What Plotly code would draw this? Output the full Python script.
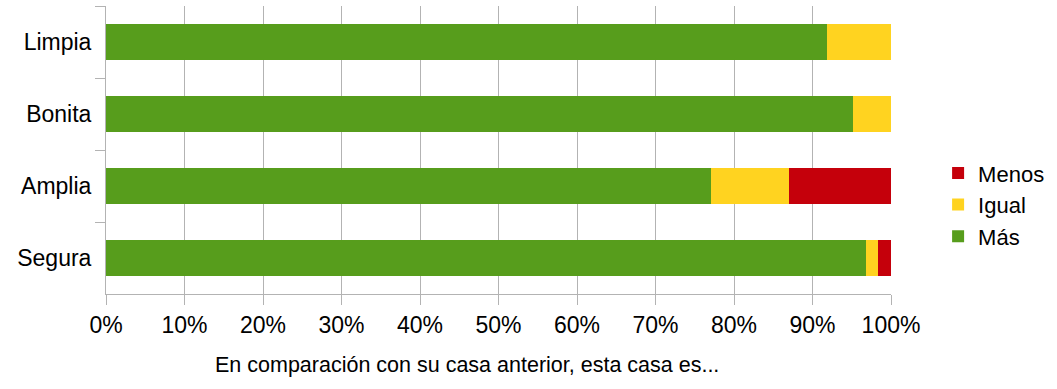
import plotly.graph_objects as go

categories = ["Limpia", "Bonita", "Amplia", "Segura"]
mas = [91.8, 95.2, 77.1, 96.8]
igual = [8.2, 4.8, 9.9, 1.6]
menos = [0.0, 0.0, 13.0, 1.6]
x_ticks = [0, 10, 20, 30, 40, 50, 60, 70, 80, 90, 100]

FONT = "Liberation Sans, Arial, sans-serif"
GRID = "#b3b3b3"

fig = go.Figure()
for name, vals, color in [("Más", mas, "#579d1c"), ("Igual", igual, "#ffd320"), ("Menos", menos, "#c5000b")]:
    fig.add_trace(go.Bar(
        y=categories, x=vals, name=name, orientation="h",
        marker=dict(color=color, line=dict(width=0)),
        width=0.5,
    ))

fig.update_layout(
    width=1057, height=389,
    margin=dict(l=106, r=166, t=6, b=95, autoexpand=False),
    barmode="stack",
    plot_bgcolor="white", paper_bgcolor="white",
    font=dict(family=FONT, size=23, color="black"),
    showlegend=True,
    legend=dict(
        traceorder="reversed",
        x=1.06, xanchor="left", y=0.31, yanchor="middle",
        font=dict(size=22), itemsizing="constant",
        tracegroupgap=0,
    ),
    xaxis=dict(
        range=[0, 100], tickvals=x_ticks, ticktext=[f"{v}%" for v in x_ticks],
        showgrid=True, gridcolor=GRID, gridwidth=1,
        showline=True, linecolor=GRID, linewidth=1,
        ticks="outside", ticklen=10, tickcolor=GRID,
        zeroline=False, fixedrange=True, automargin=False,
        tickfont=dict(size=23),
    ),
    yaxis=dict(
        categoryorder="array", categoryarray=categories, autorange="reversed",
        showline=True, linecolor=GRID, linewidth=1,
        ticks="outside", ticklen=10, tickcolor=GRID, tickson="boundaries",
        ticklabelstandoff=9,
        showgrid=False, automargin=False, fixedrange=True, tickfont=dict(size=23),
    ),
    annotations=[dict(
        text="En comparación con su casa anterior, esta casa es...",
        xref="paper", yref="paper", x=0.4605, y=-0.245,
        xanchor="center", yanchor="middle", showarrow=False,
        font=dict(size=21.5, family=FONT),
    )],
)

fig.write_html("out.html", config={"displayModeBar": False},
               post_script="document.body.style.margin='0';document.body.style.padding='0';")
